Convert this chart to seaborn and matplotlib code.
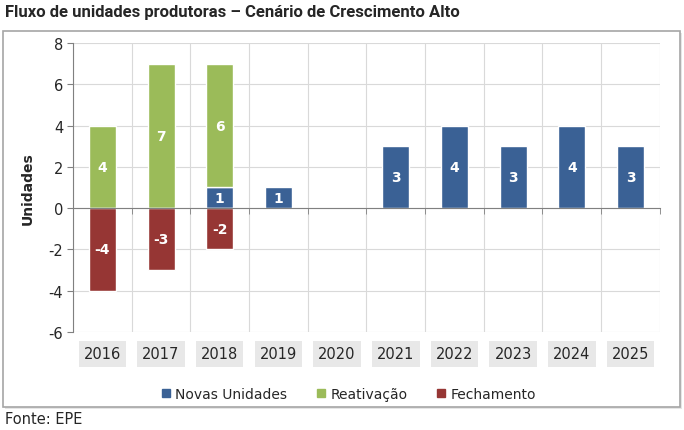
import matplotlib
matplotlib.use('Agg')
import matplotlib.pyplot as plt
import seaborn as sns
import pandas as pd
from matplotlib.patches import Rectangle
from matplotlib.lines import Line2D
from matplotlib.transforms import blended_transform_factory

# dados
anos = ['2016', '2017', '2018', '2019', '2020', '2021', '2022', '2023', '2024', '2025']
novas = [0, 0, 1, 1, 0, 3, 4, 3, 4, 3]
reativacao = [4, 7, 6, 0, 0, 0, 0, 0, 0, 0]
fechamento = [-4, -3, -2, 0, 0, 0, 0, 0, 0, 0]
series = ['Novas Unidades', 'Reativação', 'Fechamento']
y_ticks = [-6, -4, -2, 0, 2, 4, 6, 8]

cor_novas = '#3a6195'
cor_reat = '#9bbb59'
cor_fech = '#963634'
cor_grade = '#d9d9d9'

sns.set_style('white')
plt.rcParams['font.family'] = ['DejaVu Sans']
plt.rcParams['axes.unicode_minus'] = False

df = pd.DataFrame({'ano': anos, 'novas': novas, 'reat': reativacao, 'fech': fechamento})

fig = plt.figure(figsize=(6.84, 4.31), dpi=100)
ax = fig.add_axes([0.1067, 0.2274, 0.858, 0.6705])

bar_kw = dict(width=0.46, edgecolor='white', linewidth=1, saturation=1, errorbar=None, ax=ax)
sns.barplot(data=df, x='ano', y='novas', color=cor_novas, **bar_kw)
sns.barplot(data=df, x='ano', y='reat', color=cor_reat, bottom=df['novas'].values, **bar_kw)
sns.barplot(data=df, x='ano', y='fech', color=cor_fech, **bar_kw)

# rótulos dentro das barras
for cont in ax.containers:
    rotulos = [f'{int(v)}' if v != 0 else '' for v in cont.datavalues]
    ax.bar_label(cont, labels=rotulos, label_type='center', color='white',
                 fontweight='bold', fontsize=10)
for p in list(ax.patches):
    if p.get_height() == 0:
        p.remove()

ax.set_xlim(-0.5, len(anos) - 0.5)
ax.set_ylim(-6, 8)
ax.set_yticks(y_ticks)
ax.tick_params(axis='y', labelsize=10.5, length=4, color='#808080', left=True, pad=3)

# eixo x no zero, marcas entre categorias
ax.spines['bottom'].set_position(('data', 0))
ax.spines['bottom'].set_color('#808080')
ax.spines['left'].set_color('#808080')
ax.spines['top'].set_visible(False)
ax.spines['right'].set_visible(False)
ax.set_xticks([i + 0.5 for i in range(-1, len(anos))], minor=True)
ax.tick_params(axis='x', which='major', length=0, labelbottom=False)
ax.tick_params(axis='x', which='minor', length=4, color='#808080', bottom=True, direction='out')
ax.set_xlabel('')
ax.set_ylabel('Unidades', fontsize=10, fontweight='bold', labelpad=10)

ax.set_axisbelow(True)
ax.yaxis.grid(True, color=cor_grade, lw=0.8)
ax.xaxis.grid(True, which='minor', color=cor_grade, lw=0.8)
ax.xaxis.grid(False, which='major')

trans = blended_transform_factory(ax.transData, ax.transAxes)
for i, a in enumerate(anos):
    ax.text(i, -0.076, a, transform=trans, ha='center', va='center', fontsize=10.5,
            bbox=dict(boxstyle='square,pad=0.35', fc='#e8e8e8', ec='none'))

# moldura
fig.patches.append(Rectangle((5 / 684, 0.0534 - 0.004), 677 / 684, 0.8724, transform=fig.transFigure,
                             fill=True, fc='#e6e6e6', ec='none', zorder=-2))
fig.patches.append(Rectangle((3 / 684, 0.0534), 677 / 684, 0.8724, transform=fig.transFigure,
                             fill=True, fc='white', ec='#a6a6a6', lw=1.2, zorder=-1))

fig.text(5 / 684, 1 - 13 / 431, 'Fluxo de unidades produtoras – Cenário de Crescimento Alto',
         fontsize=12, fontweight='bold', va='center', ha='left', family=['Roboto', 'DejaVu Sans'])

handles = [Line2D([], [], marker='s', ls='', color=c, markersize=6)
           for c in [cor_novas, cor_reat, cor_fech]]
fig.legend(handles, series, loc='center', bbox_to_anchor=(348 / 684, 1 - 395 / 431), ncol=3,
           frameon=False, fontsize=10, columnspacing=2.0, handletextpad=0.3, handlelength=0.8)

fig.text(5 / 684, 1 - 420 / 431, 'Fonte: EPE', fontsize=10.5, va='center', ha='left')

fig.savefig('out.png', dpi=100)
